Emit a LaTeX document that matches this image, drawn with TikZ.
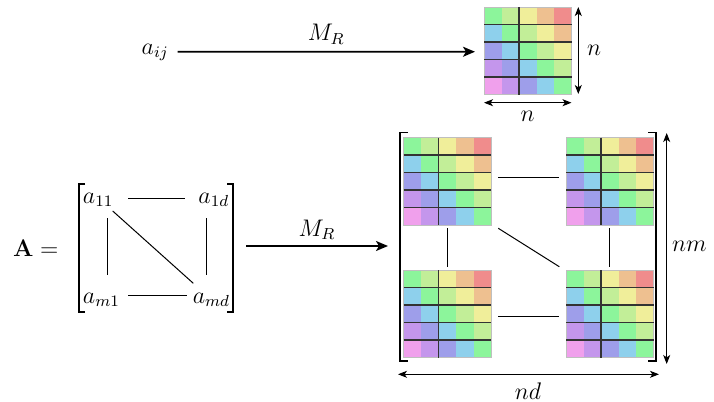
\documentclass[tikz,border=0pt,12pt]{standalone}
\usetikzlibrary{arrows.meta,calc}
\definecolor{k0}{RGB}{240,160,236}
\definecolor{k1}{RGB}{196,150,236}
\definecolor{k2}{RGB}{158,158,234}
\definecolor{k3}{RGB}{142,208,236}
\definecolor{k4}{RGB}{140,245,155}
\definecolor{k5}{RGB}{194,238,152}
\definecolor{k6}{RGB}{240,238,154}
\definecolor{k7}{RGB}{238,192,144}
\definecolor{k8}{RGB}{240,140,140}
\tikzset{
  blkbox/.style={minimum width=43.75pt, minimum height=43.75pt, inner sep=0pt, outer sep=0pt},
  mainarrow/.style={line width=0.9pt, -{Stealth[length=6pt,width=5pt,inset=1.5pt]}},
  dimarrow/.style={line width=0.5pt, {Stealth[length=4.5pt,width=3.5pt,inset=1.2pt]}-{Stealth[length=4.5pt,width=3.5pt,inset=1.2pt]}},
  link/.style={line width=0.5pt},
  brk/.style={line width=0.9pt},
  gridline/.style={line width=0.6pt, draw=black!80},
  txt/.style={inner sep=0pt, outer sep=0pt},
}
\newcommand\cellgrid[1]{%
  \foreach \i in {0,...,4}{\foreach \j in {0,...,4}{%
    \pgfmathtruncatemacro\blkk{\j-\i+4}%
    \fill[k\blkk] ($(#1.north west)+(\j*17.5,\i*17.5)$) rectangle ++(17.5,17.5);}}%
  \draw[black!25, line width=0.4pt] (#1.north west) rectangle (#1.south east);
  \foreach \i in {1,...,4}{\draw[gridline] ($(#1.north west)+(0,\i*17.5)$) -- ++(87.5,0);}
  \draw[gridline] ($(#1.north west)+(35,0)$) -- ++(0,87.5);
}
\begin{document}
\begin{tikzpicture}[x=0.5pt,y=-0.5pt]
\useasboundingbox (0,0) rectangle (714,402);
% top row
\node[txt, anchor=base west] (aij) at (141.7,54.3) {$a_{ij}$};
\node[blkbox] (R) at (527.75,50.75) {};
\cellgrid{R}
\draw[mainarrow] ($(aij.base east)+(9,-2.6)$) -- node[txt, anchor=base, yshift=5.5pt] (mr1) {$M_R$} ($(R.west)+(-9,1)$);
\draw[dimarrow] ($(R.north east)+(6.8,0)$) -- ($(R.south east)+(6.8,-0.5)$);
\draw[dimarrow] ($(R.south west)+(0,8.2)$) -- ($(R.south east)+(0,8.2)$);
\node[txt, anchor=west] (nlab1) at ($(R.east)+(15.5,0)$) {$n$};
\node[txt] (nlab2) at ($(R.south)+(0,21.5)$) {$n$};
% left matrix
\node[txt, anchor=base west] (Aeq) at (13,256) {$\mathbf{A} =$};
\node[txt, minimum width=77pt, minimum height=63.85pt] (lm) at (156,247.85) {};
\draw[brk] ($(lm.north west)+(6,0)$) -- (lm.north west) -- (lm.south west) -- ($(lm.south west)+(6,0)$);
\draw[brk] ($(lm.north east)+(-6,0)$) -- (lm.north east) -- (lm.south east) -- ($(lm.south east)+(-6,0)$);
\node[txt, anchor=base west] (a11) at (83,203) {$a_{11}$};
\node[txt, anchor=base east] (a1d) at (229,203) {$a_{1d}$};
\node[txt, anchor=base west] (am1) at (83,303) {$a_{m1}$};
\node[txt, anchor=base east] (amd) at (230,303) {$a_{md}$};
\draw[link] ($(a11.base west)+(45,-4.7)$) -- ($(a1d.base east)+(-44,-4.7)$);
\draw[link] ($(am1.base west)+(45,-8)$) -- ($(amd.base east)+(-43,-8)$);
\draw[link] ($(a11.base west)+(24.7,15)$) -- ($(am1.base west)+(24.7,-28)$);
\draw[link] ($(a1d.base east)+(-23,15)$) -- ($(amd.base east)+(-24,-28)$);
\draw[link] ($(a11.base west)+(29.7,8)$) -- ($(amd.base east)+(-36.7,-19.7)$);
% big matrix
\node[txt, minimum width=128pt, minimum height=114.25pt] (big) at (528,246.75) {};
\draw[brk] ($(big.north west)+(8,0)$) -- (big.north west) -- (big.south west) -- ($(big.south west)+(8,0)$);
\draw[brk] ($(big.north east)+(-8,0)$) -- (big.north east) -- (big.south east) -- ($(big.south east)+(-8,0)$);
\node[blkbox] (TL) at (447.25,181.25) {};
\node[blkbox] (TR) at (609.75,181.25) {};
\node[blkbox] (BL) at (447.25,313.75) {};
\node[blkbox] (BR) at (609.75,313.75) {};
\cellgrid{TL}
\cellgrid{TR}
\cellgrid{BL}
\cellgrid{BR}
\draw[link] ($(TL.east)+(7,-3.5)$) -- ($(TR.west)+(-7,-3.5)$);
\draw[link] ($(BL.east)+(7,3)$) -- ($(BR.west)+(-7,3)$);
\draw[link] ($(TL.south)+(0,3.3)$) -- ($(BL.north)+(0,-3.3)$);
\draw[link] ($(TR.south)+(0,3.3)$) -- ($(BR.north)+(0,-3.3)$);
\draw[link] ($(TL.south east)+(7.3,3.3)$) -- ($(BR.north west)+(-6.7,-3.3)$);
\draw[mainarrow] ($(lm.east)+(13,-1.85)$) -- node[txt, anchor=base, yshift=5pt] (mr2) {$M_R$} ($(big.west)+(-12,-0.75)$);
\draw[dimarrow] ($(big.north east)+(10.7,0.5)$) -- ($(big.south east)+(10.7,3)$);
\draw[dimarrow] ($(big.south west)+(-2,13.3)$) -- ($(big.south east)+(3,13.3)$);
\node[txt, anchor=west] (nmlab) at ($(big.east)+(16,0)$) {$nm$};
\node[txt] (ndlab) at ($(big.south)+(0,30)$) {$nd$};
\end{tikzpicture}
\end{document}
